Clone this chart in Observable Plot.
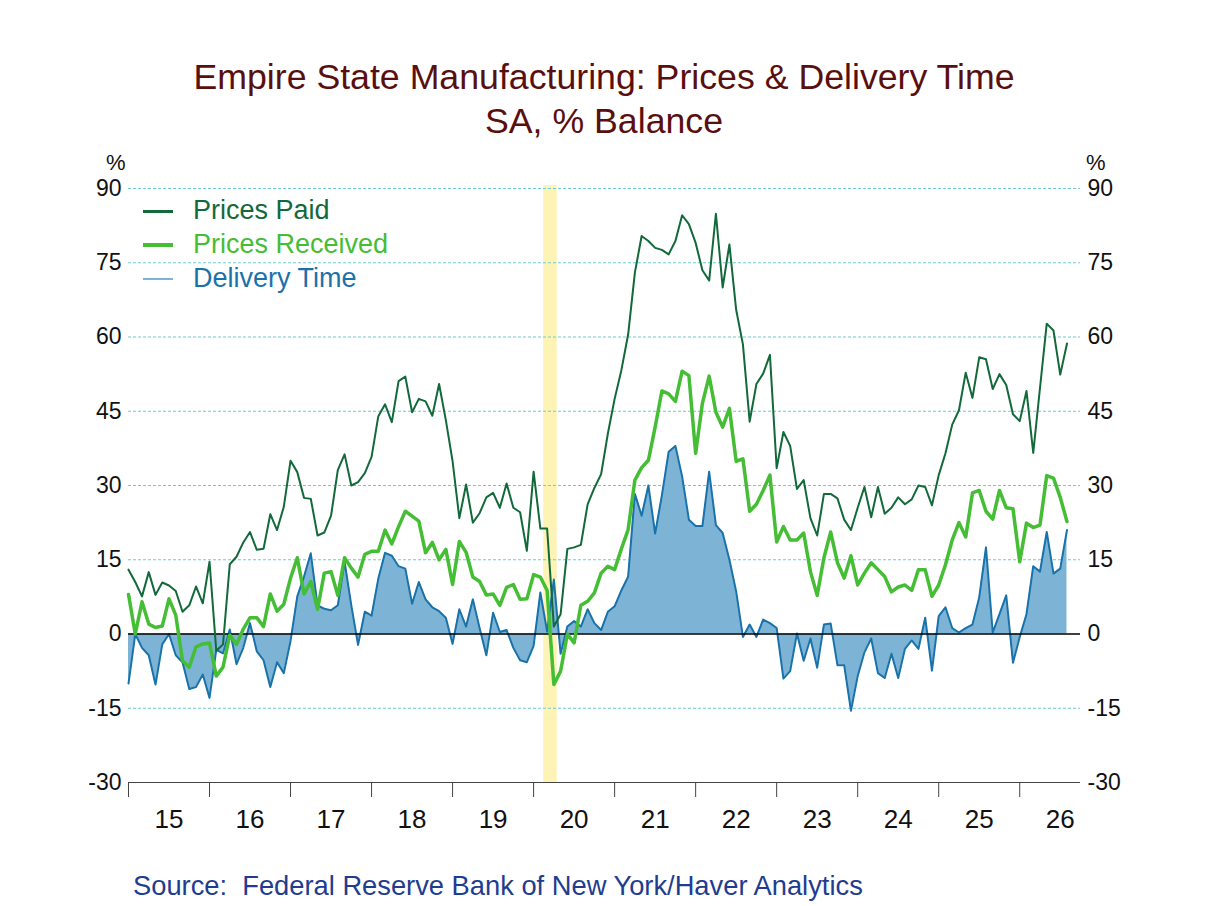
<!DOCTYPE html>
<html>
<head>
<meta charset="utf-8">
<script src="https://cdn.jsdelivr.net/npm/d3@7"></script>
<script src="https://cdn.jsdelivr.net/npm/@observablehq/plot@0.6"></script>
<style>
  html, body { margin: 0; padding: 0; background: #fff; }
  #wrap { position: relative; width: 1208px; height: 906px; background: #fff; font-family: Arial, "Liberation Sans", sans-serif; overflow: hidden; }
  .abs { position: absolute; white-space: nowrap; }
  .title { left: 0; width: 1208px; text-align: center; font-size: 35.7px; line-height: 35px; color: #5a0f0f; }
  .pct { font-size: 22px; line-height: 22px; color: #111; }
  .leg { font-size: 27px; line-height: 27px; }
  .sw { position: absolute; width: 30px; }
  #chart { position: absolute; left: 0; top: 140px; }
</style>
</head>
<body>
<div id="wrap">
  <div class="abs title" style="top:60px">Empire State Manufacturing: Prices &amp; Delivery Time</div>
  <div class="abs title" style="top:104px">SA, % Balance</div>
  <div class="abs pct" style="left:106px; top:152px">%</div>
  <div class="abs pct" style="left:1086px; top:152px">%</div>
  <div id="chart"></div>
  <div class="sw" style="left:143px; top:210px; height:3px; background:#12693a"></div>
  <div class="abs leg" style="left:193px; top:197px; color:#12693a">Prices Paid</div>
  <div class="sw" style="left:143px; top:243px; height:4px; background:#45bd35"></div>
  <div class="abs leg" style="left:193px; top:231px; color:#45bd35">Prices Received</div>
  <div class="sw" style="left:143px; top:278px; height:2px; background:#7db4d6"></div>
  <div class="abs leg" style="left:193px; top:265px; color:#1a72aa">Delivery Time</div>
  <div class="abs" style="left:133px; top:872px; font-size:27.3px; line-height:27px; color:#1f3d8f">Source:&nbsp; Federal Reserve Bank of New York/Haver Analytics</div>
</div>
<script>
// Monthly series, Jan 2015 onward (% balance, SA)
const startYear = 2015;
const pricesPaid = [
  13.0, 10.5, 7.6, 12.5, 7.9, 10.4, 9.8, 8.7, 4.5, 5.8, 9.6, 6.2,
  14.6, -3.4, -2.1, 14.1, 15.6, 18.5, 20.6, 17.0, 17.2, 24.2, 21.0, 25.7,
  35.0, 32.7, 27.5, 27.3, 19.9, 20.5, 23.9, 33.1, 36.3, 30.0, 30.7, 32.5,
  35.8, 44.0, 46.4, 42.8, 51.1, 52.0, 44.8, 47.5, 47.0, 44.1, 50.5, 43.2,
  34.9, 23.4, 30.2, 22.5, 24.4, 27.6, 28.5, 25.5, 30.4, 25.5, 24.6, 16.8,
  32.8, 21.3, 21.3, 1.5, 4.0, 17.2, 17.5, 18.0, 26.2, 29.5, 32.3, 40.5,
  47.5, 53.3, 60.5, 73.0, 80.4, 79.4, 78.0, 77.6, 76.7, 79.4, 84.6, 82.8,
  79.0, 73.5, 71.4, 84.9, 70.0, 78.7, 65.5, 58.5, 42.9, 50.5, 52.6, 56.4,
  33.5, 40.8, 38.0, 29.3, 31.1, 23.4, 19.9, 28.3, 28.3, 27.4, 23.1, 21.0,
  25.5, 29.7, 23.6, 29.7, 24.3, 25.5, 27.6, 26.2, 27.2, 30.0, 29.7, 26.0,
  32.1, 36.5, 42.3, 45.2, 52.8, 47.7, 55.9, 55.5, 49.5, 52.5, 50.3, 44.4,
  43.0, 49.1, 36.6, 49.7, 62.7, 61.3, 52.4, 58.7
];
const pricesReceived = [
  8.0, 0.0, 6.5, 2.0, 1.3, 1.6, 7.1, 3.8, -5.4, -6.7, -2.6, -2.0,
  -1.8, -8.5, -6.7, -0.2, -2.1, 1.0, 3.3, 3.3, 1.5, 8.1, 4.6, 6.0,
  11.3, 15.4, 8.1, 10.6, 5.0, 12.3, 12.6, 7.8, 15.4, 13.3, 11.5, 16.1,
  16.7, 16.7, 21.0, 18.2, 21.7, 24.8, 23.8, 22.8, 16.4, 18.5, 15.0, 17.1,
  10.0, 18.7, 16.5, 11.5, 10.6, 7.9, 8.1, 5.8, 9.4, 10.0, 7.0, 7.1,
  12.0, 11.5, 8.8, -10.2, -7.5, 0.0, -1.8, 5.8, 6.6, 8.3, 12.3, 13.7,
  13.0, 17.2, 21.1, 31.1, 33.6, 35.1, 41.8, 49.1, 48.5, 47.0, 53.1, 52.2,
  36.5, 46.6, 52.1, 44.8, 41.8, 45.6, 34.9, 35.4, 24.8, 26.2, 29.0, 32.1,
  18.6, 21.7, 19.0, 19.0, 20.4, 12.6, 7.8, 15.4, 20.6, 14.4, 11.3, 15.8,
  9.9, 12.3, 14.4, 13.0, 11.6, 8.5, 9.5, 9.9, 8.8, 13.0, 13.0, 7.6,
  9.9, 14.0, 19.0, 22.5, 19.6, 28.5, 29.0, 24.8, 23.2, 29.0, 25.5, 25.3,
  14.6, 22.4, 21.5, 22.0, 32.0, 31.5, 27.6, 22.7
];
const deliveryTime = [
  -10.0, 0.0, -2.8, -4.3, -10.2, -2.1, 0.0, -4.3, -5.7, -11.1, -10.7, -8.2,
  -12.9, -3.2, -3.9, 0.9, -6.1, -2.8, 2.2, -3.5, -5.3, -10.7, -5.7, -7.9,
  -1.4, 7.6, 11.6, 16.3, 5.8, 5.1, 4.8, 5.8, 14.6, 5.8, -2.2, 4.5,
  3.7, 11.2, 16.4, 15.8, 13.7, 13.2, 6.1, 10.5, 7.0, 5.4, 4.6, 3.3,
  -2.0, 5.0, 1.5, 7.0, 1.2, -4.3, 4.3, 0.4, 0.8, -2.8, -5.3, -5.7,
  -2.4, 8.4, 0.5, 11.0, -4.0, 1.5, 2.6, 1.5, 5.0, 2.2, 0.8, 4.5,
  5.6, 8.8, 11.6, 28.3, 23.9, 30.0, 20.3, 28.0, 36.8, 38.0, 31.8, 23.1,
  21.8, 21.8, 32.8, 22.0, 20.4, 15.0, 8.6, -0.6, 1.9, -0.6, 2.9, 2.2,
  1.2, -9.0, -7.5, 0.1, -5.4, -0.9, -6.8, 1.9, 2.1, -6.3, -6.3, -15.5,
  -8.5, -3.7, -0.9, -7.9, -8.9, -4.0, -8.9, -3.0, -1.3, -3.0, 3.3, -7.4,
  3.6, 5.4, 1.2, 0.3, 1.2, 1.9, 7.4, 17.5, 0.3, 4.0, 7.8, -5.8,
  -0.6, 4.0, 13.7, 12.6, 20.6, 12.2, 13.2, 21.0
];
const years = [2015, 2016, 2017, 2018, 2019, 2020, 2021, 2022, 2023, 2024, 2025, 2026];
const yTicks = [-30, -15, 0, 15, 30, 45, 60, 75, 90];
const gridTicks = [-15, 15, 30, 45, 60, 75, 90];
// Recession (Feb–Apr 2020), mid-month bounds in fractional years
const recession = [{start: 2020 + 1.5 / 12, end: 2020 + 3.5 / 12}];

const rows = pricesPaid.map((v, i) => ({
  t: startYear + i / 12,
  paid: v,
  received: pricesReceived[i],
  delivery: deliveryTime[i]
}));

const chart = Plot.plot({
  width: 1208,
  height: 710,
  marginLeft: 128,
  marginRight: 128,
  marginTop: 48,
  marginBottom: 68,
  x: {domain: [2015, 2026.75]},
  y: {domain: [-30, 90]},
  style: {fontFamily: 'Arial, "Liberation Sans", sans-serif', fontSize: "23px", color: "#111", background: "transparent", overflow: "visible"},
  marks: [
    Plot.rect(recession, {x1: "start", x2: "end", y1: -30, y2: 90.6, fill: "#fdf3b5"}),
    Plot.gridY(gridTicks, {stroke: "#6ccbd3", strokeOpacity: 1, strokeWidth: 1, strokeDasharray: "3,2"}),
    Plot.areaY(rows, {x: "t", y: "delivery", fill: "#7db4d6"}),
    Plot.lineY(rows, {x: "t", y: "delivery", stroke: "#1a72aa", strokeWidth: 2}),
    Plot.ruleY([0], {stroke: "#000", strokeWidth: 1.3}),
    Plot.ruleY([-30], {stroke: "#444", strokeWidth: 1.2}),
    Plot.lineY(rows, {x: "t", y: "received", stroke: "#45bd35", strokeWidth: 3.5}),
    Plot.lineY(rows, {x: "t", y: "paid", stroke: "#12693a", strokeWidth: 2}),
    Plot.axisY(yTicks, {anchor: "left", tickSize: 0, tickPadding: 7, label: null, tickFormat: d => String(d)}),
    Plot.axisY(yTicks, {anchor: "right", tickSize: 0, tickPadding: 7, label: null, tickFormat: d => String(d)}),
    Plot.axisX(years, {anchor: "bottom", tickSize: 15, stroke: "#444", tickFormat: () => "", label: null}),
    Plot.axisX(years.map(y => y + 0.5), {anchor: "bottom", tickSize: 0, tickPadding: 27, fontSize: 26, tickFormat: d => String(Math.floor(d)).slice(2), label: null})
  ]
});
document.getElementById("chart").appendChild(chart);
</script>
</body>
</html>
